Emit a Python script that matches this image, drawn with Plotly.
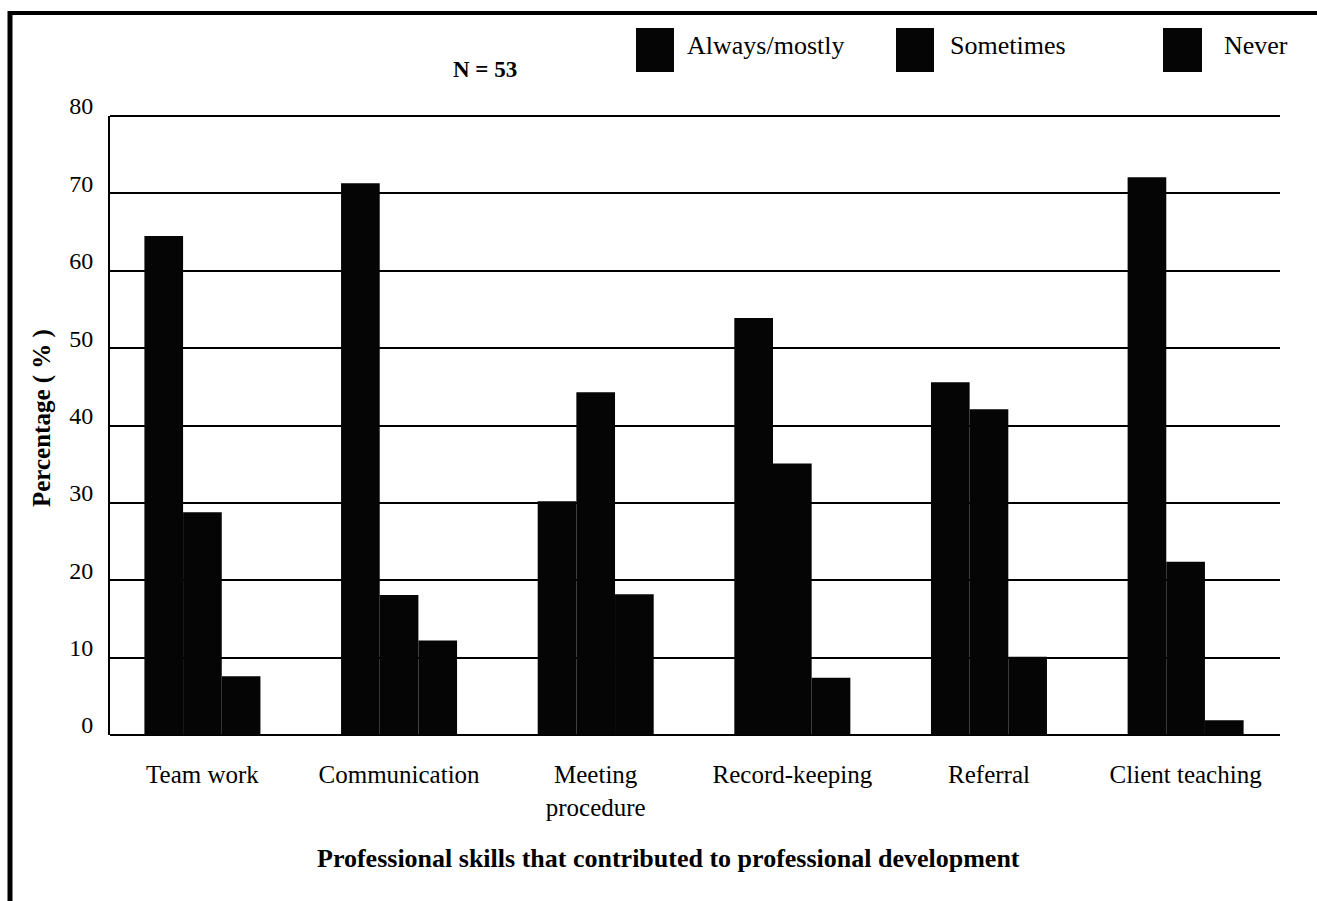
import plotly.graph_objects as go

# Survey results (N = 53): share of respondents per rating, by skill
skills = ["Team work", "Communication", "Meeting<br>procedure",
          "Record-keeping", "Referral", "Client teaching"]
series_names = ["Always/mostly", "Sometimes", "Never"]
always_mostly = [64.5, 71.3, 30.2, 53.9, 45.6, 72.1]
sometimes = [28.8, 18.1, 44.3, 35.1, 42.1, 22.4]
never = [7.6, 12.2, 18.2, 7.4, 10.1, 1.9]
y_ticks = [0, 10, 20, 30, 40, 50, 60, 70, 80]

W, H = 1317, 901
L, R, T, B = 110, 37, 116, 166
PW, PH = W - L - R, H - T - B

def px(x):
    return (x - L) / PW

def py(y):
    return (H - B - y) / PH

FONT = "Liberation Serif"
BAR = "#050505"

fig = go.Figure()
for name, vals in zip(series_names, [always_mostly, sometimes, never]):
    fig.add_trace(go.Bar(x=skills, y=vals, name=name,
                         marker=dict(color=BAR, line=dict(width=0)),
                         showlegend=False))

fig.update_layout(
    width=W, height=H,
    margin=dict(l=L, r=R, t=T, b=B, pad=0),
    paper_bgcolor="white", plot_bgcolor="white",
    barmode="group", bargap=0.41, bargroupgap=0,
    font=dict(family=FONT, color="black", size=25),
    xaxis=dict(type="category", range=[-0.47, 5.48],
               showgrid=False, showline=False, zeroline=False,
               ticks="", tickfont=dict(size=25, family=FONT),
               ticklabelstandoff=22),
    yaxis=dict(range=[0, 80], tickvals=y_ticks,
               showgrid=True, gridcolor="black", gridwidth=2,
               showline=True, linecolor="black", linewidth=2,
               zeroline=True, zerolinecolor="black", zerolinewidth=2,
               ticks="", tickfont=dict(size=24, family=FONT),
               ticklabelshift=-10, ticklabelstandoff=10),
)

# top gridline along the upper edge of the plot area (value 80)
fig.add_shape(type="line", xref="paper", yref="paper", x0=0, x1=1,
              y0=1, y1=1, line=dict(color="black", width=2))

# outer frame (top and left edges)
fig.add_shape(type="line", xref="paper", yref="paper",
              x0=px(8), x1=px(W + 5), y0=py(13), y1=py(13),
              line=dict(color="black", width=4))
fig.add_shape(type="line", xref="paper", yref="paper",
              x0=px(10), x1=px(10), y0=py(11), y1=py(H + 5),
              line=dict(color="black", width=5))

# legend: large black squares with labels
legend_boxes = [(636, 674), (896, 934), (1163, 1202)]
legend_text_x = [685, 948, 1222]
for (x0, x1), tx, name in zip(legend_boxes, legend_text_x, series_names):
    fig.add_shape(type="rect", xref="paper", yref="paper",
                  x0=px(x0), x1=px(x1), y0=py(72), y1=py(28),
                  fillcolor=BAR, line=dict(width=0))
    fig.add_annotation(xref="paper", yref="paper", x=px(tx), y=py(46),
                       text=name, showarrow=False, xanchor="left",
                       yanchor="middle", font=dict(size=26, family=FONT))

fig.add_annotation(xref="paper", yref="paper", x=px(485), y=py(70),
                   text="<b>N = 53</b>", showarrow=False,
                   xanchor="center", yanchor="middle",
                   font=dict(size=23, family=FONT))

fig.add_annotation(xref="paper", yref="paper", x=px(42), y=py(418),
                   text="<b>Percentage ( % )</b>", showarrow=False,
                   xanchor="center", yanchor="middle",
                   textangle=-90, font=dict(size=25, family=FONT))

fig.add_annotation(xref="paper", yref="paper", x=px(668), y=py(858),
                   text="<b>Professional skills that contributed to professional development</b>",
                   showarrow=False, xanchor="center", yanchor="middle",
                   font=dict(size=26, family=FONT))

fig.write_html("out.html")
